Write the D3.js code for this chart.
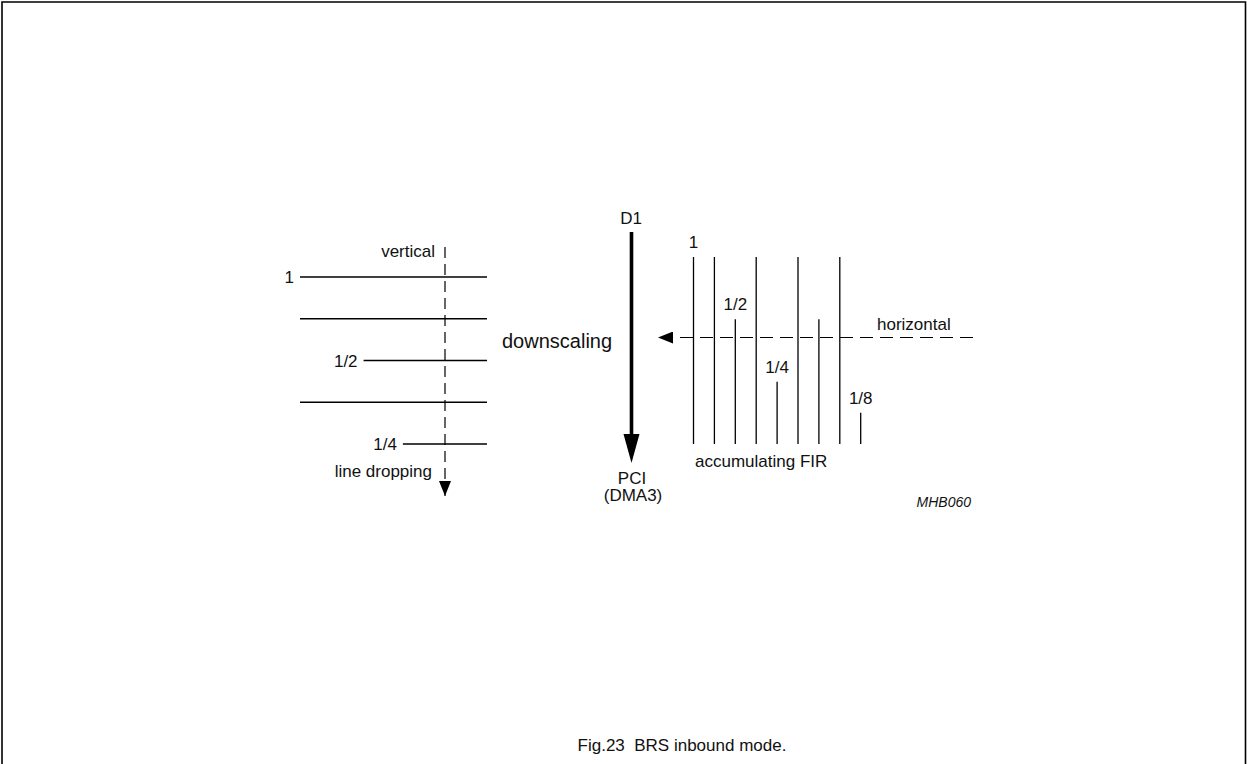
<!DOCTYPE html>
<html>
<head>
<meta charset="utf-8">
<script src="https://cdn.jsdelivr.net/npm/d3@7"></script>
<style>
  body { margin: 0; background: #fff; }
  svg text { font-family: "Liberation Sans", Arial, Helvetica, sans-serif; fill: #111; }
</style>
</head>
<body>
<script>
// line dropping side: relative line length per input line
var rowLabels = ["1", "", "1/2", "", "1/4"];
var rowLengths = [1, 1, 0.66, 1, 0.45];

// accumulating FIR side: tap height per column (units of the 1/8 tap)
var tapLabels = ["1", "", "1/2", "", "1/4", "", "", "", "1/8"];
var tapHeights = [6, 6, 4, 6, 2, 6, 4, 6, 1];

window.onload = drawFigure();

function drawFigure(){

    var width = 1247,
        height = 764;

    var svg = d3.select("body")
        .append("svg")
        .attr("width", width)
        .attr("height", height);

    // arrow heads
    var defs = svg.append("defs");
    defs.append("marker")
        .attr("id", "headSmall")
        .attr("viewBox", "0 0 15 12")
        .attr("refX", 15).attr("refY", 6)
        .attr("markerWidth", 15).attr("markerHeight", 12)
        .attr("markerUnits", "userSpaceOnUse")
        .attr("orient", "auto")
        .append("path").attr("d", "M0,0L15,6L0,12Z").attr("fill", "#000");

    // frame, open at the bottom
    svg.append("path")
        .attr("d", "M2,764V2H1245.5V764")
        .attr("fill", "none")
        .attr("stroke", "#000")
        .attr("stroke-width", 1.6);

    // ---- left part: vertical line dropping
    var yRow = d3.scaleLinear().domain([0, rowLabels.length - 1]).range([277, 444]);
    var xLen = d3.scaleLinear().domain([0, 1]).range([487, 300]);

    svg.selectAll(".row")
        .data(rowLengths)
        .enter()
        .append("line")
        .attr("class", "row")
        .attr("x1", function(d){ return xLen(d); })
        .attr("x2", xLen(0))
        .attr("y1", function(d, i){ return yRow(i); })
        .attr("y2", function(d, i){ return yRow(i); })
        .attr("stroke", "#000")
        .attr("stroke-width", 1.3);

    svg.selectAll(".rowLabel")
        .data(rowLabels)
        .enter()
        .append("text")
        .attr("class", "rowLabel")
        .attr("x", function(d, i){ return xLen(rowLengths[i]) - 6; })
        .attr("y", function(d, i){ return yRow(i) + 6; })
        .attr("text-anchor", "end")
        .attr("font-size", 17)
        .text(function(d){ return d; });

    // dashed vertical arrow
    svg.append("line")
        .attr("x1", 445).attr("x2", 445)
        .attr("y1", 247).attr("y2", 496)
        .attr("stroke", "#000")
        .attr("stroke-width", 1.2)
        .attr("stroke-dasharray", "11,6")
        .attr("marker-end", "url(#headSmall)");

    svg.append("text").attr("x", 435).attr("y", 257)
        .attr("text-anchor", "end").attr("font-size", 17).text("vertical");
    svg.append("text").attr("x", 432).attr("y", 477)
        .attr("text-anchor", "end").attr("font-size", 17).text("line dropping");

    // ---- middle: D1 -> PCI
    svg.append("line")
        .attr("x1", 631.5).attr("x2", 631.5)
        .attr("y1", 232).attr("y2", 438)
        .attr("stroke", "#000")
        .attr("stroke-width", 3.6);
    svg.append("path")
        .attr("d", "M623.5,434L639.5,434L631.5,463Z")
        .attr("fill", "#000");

    svg.append("text").attr("x", 631).attr("y", 224)
        .attr("text-anchor", "middle").attr("font-size", 17).text("D1");
    svg.append("text").attr("x", 502).attr("y", 348)
        .attr("font-size", 20).text("downscaling");
    svg.append("text").attr("x", 632).attr("y", 484)
        .attr("text-anchor", "middle").attr("font-size", 17).text("PCI");
    svg.append("text").attr("x", 633).attr("y", 501)
        .attr("text-anchor", "middle").attr("font-size", 17).text("(DMA3)");

    // ---- right part: accumulating FIR
    var xTap = d3.scaleLinear().domain([0, tapHeights.length - 1]).range([693.5, 860.7]);
    var yTap = d3.scaleLinear().domain([0, 6]).range([444, 257]);

    svg.selectAll(".tap")
        .data(tapHeights)
        .enter()
        .append("line")
        .attr("class", "tap")
        .attr("x1", function(d, i){ return xTap(i); })
        .attr("x2", function(d, i){ return xTap(i); })
        .attr("y1", yTap(0))
        .attr("y2", function(d){ return yTap(d); })
        .attr("stroke", "#000")
        .attr("stroke-width", 1.3);

    svg.selectAll(".tapLabel")
        .data(tapLabels)
        .enter()
        .append("text")
        .attr("class", "tapLabel")
        .attr("x", function(d, i){ return xTap(i); })
        .attr("y", function(d, i){ return yTap(tapHeights[i]) - 9; })
        .attr("text-anchor", "middle")
        .attr("font-size", 17)
        .text(function(d){ return d; });

    // dashed horizontal arrow
    svg.append("line")
        .attr("x1", 973).attr("x2", 658)
        .attr("y1", 337.5).attr("y2", 337.5)
        .attr("stroke", "#000")
        .attr("stroke-width", 1.2)
        .attr("stroke-dasharray", "13,7")
        .attr("marker-end", "url(#headSmall)");

    svg.append("text").attr("x", 877).attr("y", 330)
        .attr("font-size", 17).text("horizontal");
    svg.append("text").attr("x", 695).attr("y", 467)
        .attr("font-size", 17).text("accumulating FIR");
    svg.append("text").attr("x", 971).attr("y", 507)
        .attr("text-anchor", "end").attr("font-size", 14)
        .attr("font-style", "italic").text("MHB060");

    // caption
    svg.append("text").attr("x", 682).attr("y", 751)
        .attr("text-anchor", "middle")
        .attr("font-size", 17)
        .style("white-space", "pre")
        .text("Fig.23  BRS inbound mode.");
};
</script>
</body>
</html>
